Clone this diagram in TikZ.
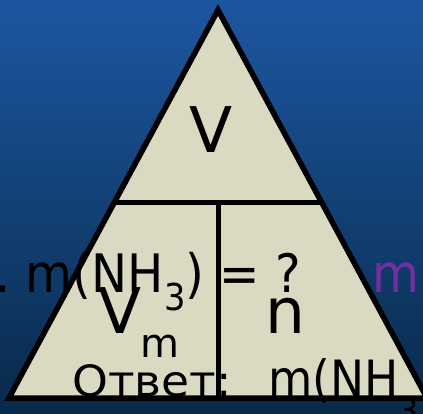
\documentclass[tikz,border=0pt]{standalone}
\usepackage{fontspec}
\setmainfont{DejaVu Sans}
\newfontfamily\condfont{DejaVu Sans}[FakeStretch=0.91]
\newfontfamily\widefont{DejaVu Sans}[FakeStretch=1.06]
\usepackage{xcolor}
\definecolor{BgTop}{RGB}{29,86,160}
\definecolor{BgMid}{RGB}{24,76,140}
\definecolor{BgBot}{RGB}{8,42,75}
\definecolor{TriFill}{RGB}{218,218,195}
\definecolor{AnsPurple}{RGB}{112,48,160}

\begin{document}
\begin{tikzpicture}[x=1pt, y=-1pt,
    tri/.style={draw=black, line width=5.5pt, fill=TriFill, line join=miter},
    sep/.style={draw=black, line width=5pt},
    bigtxt/.style={inner sep=0pt, anchor=base, font=\fontsize{63}{70}\selectfont},
    task/.style={inner sep=0pt, anchor=base west, font=\condfont\fontsize{53}{60}\selectfont},
    ans/.style={inner sep=0pt, anchor=base west, font=\widefont\fontsize{43}{50}\selectfont}
  ]
  \useasboundingbox (0,0) rectangle (423,414);
  \clip (0,0) rectangle (423,414);
  \shade[top color=BgTop, middle color=BgMid, bottom color=BgBot]
        (0,0) rectangle (423,414);

  % triangle V / Vm / n
  \coordinate (apex) at (218,10);
  \coordinate (bl)   at (9,398);
  \coordinate (br)   at (427,398);
  \coordinate (ml)   at (114.2,203);
  \coordinate (mr)   at (321.8,203);
  \coordinate (mid)  at (218,203);
  \coordinate (bm)   at (218,398);
  \draw[tri] (apex) -- (br) -- (bl) -- cycle;
  \draw[sep] (ml) -- (mr);
  \draw[sep] (mid) -- (bm);

  \node[bigtxt] (vol) at (211,153) {V};
  \node[bigtxt, anchor=base west] (molvol) at (98,333)
        {V\kern-1pt\raisebox{-24pt}{\fontsize{40}{44}\selectfont m}};
  \node[bigtxt] (amount) at (285,333) {n};

  % task text over the triangle
  \node[task] (task) at (-5,292)
        {.\ m(NH\raisebox{-18pt}{\fontsize{37}{40}\selectfont 3}) = ?};
  \node[task, text=AnsPurple] (given) at (372,292) {m};
  \node[ans] (answer) at (72,396) {Ответ:};
  \node[task, font=\condfont\fontsize{50}{56}\selectfont] (result) at (268,396)
        {m(NH\raisebox{-27pt}{\fontsize{35}{40}\selectfont 3}};
\end{tikzpicture}
\end{document}
